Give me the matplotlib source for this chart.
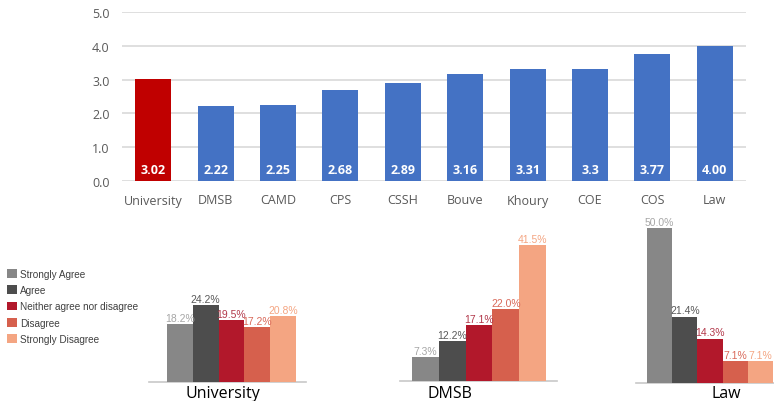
import matplotlib
matplotlib.use("Agg")
import matplotlib.pyplot as plt

# ---------------- data ----------------
colleges = ["University", "DMSB", "CAMD", "CPS", "CSSH", "Bouve", "Khoury", "COE", "COS", "Law"]
scores = [3.02, 2.22, 2.25, 2.68, 2.89, 3.16, 3.31, 3.30, 3.77, 4.00]
score_labels = ["3.02", "2.22", "2.25", "2.68", "2.89", "3.16", "3.31", "3.3", "3.77", "4.00"]
yticks = [0.0, 1.0, 2.0, 3.0, 4.0, 5.0]

responses = ["Strongly Agree", "Agree", "Neither agree nor disagree", "Disagree", "Strongly Disagree"]
univ_pct = [18.2, 24.2, 19.5, 17.2, 20.8]
dmsb_pct = [7.3, 12.2, 17.1, 22.0, 41.5]
law_pct = [50.0, 21.4, 14.3, 7.1, 7.1]

# ---------------- style ----------------
W, H = 774, 402
fig = plt.figure(figsize=(W / 100, H / 100), dpi=100)
plt.rcParams['font.family'] = ['Open Sans', 'DejaVu Sans']

def box(x0, x1, ytop, ybot):
    return [x0 / W, 1 - ybot / H, (x1 - x0) / W, (ybot - ytop) / H]

# top chart
ax = fig.add_axes(box(122, 746, 13, 182))
bar_colors = ["#c00000"] + ["#4472c4"] * (len(colleges) - 1)
xs = list(range(len(colleges)))
ax.bar(xs, scores, width=0.58, color=bar_colors, zorder=3)
for x, lab in zip(xs, score_labels):
    ax.text(x, 0.33, lab, ha="center", va="center", color="white",
            fontsize=9, fontweight="bold", zorder=4)
ax.set_xlim(-0.5, len(colleges) - 0.5)
ax.set_ylim(0, 5)
ax.set_yticks(yticks)
ax.set_yticklabels([f"{v:.1f}" for v in yticks])
ax.set_xticks(xs)
ax.set_xticklabels(colleges)
ax.grid(axis="y", color="#d9d9d9", linewidth=1.2, zorder=0)
for s in ax.spines.values():
    s.set_visible(False)
ax.tick_params(length=0, labelsize=9, colors="#595959")
ax.tick_params(axis="x", pad=9)
ax.tick_params(axis="y", pad=9)

# bottom charts
resp_colors = ["#878787", "#4d4d4d", "#b2182b", "#d6604d", "#f4a582"]
label_colors = ["#a6a6a6", "#595959", "#b2384a", "#d9695a", "#f4a582"]

def small(ax_box, vals, scale, lim, title, title_x):
    a = fig.add_axes(box(*ax_box))
    bars = a.bar(range(len(vals)), vals, width=1.0, color=resp_colors, zorder=3)
    for i, v in enumerate(vals):
        a.text(i, v + 0.4, f"{v:.1f}%", ha="center", va="bottom",
               fontsize=7.5, color=label_colors[i], family=["Liberation Sans", "DejaVu Sans"])
    a.set_xlim(*lim)
    height_px = ax_box[3] - ax_box[2]
    a.set_ylim(0, height_px / scale)
    for k, s in a.spines.items():
        s.set_visible(k == "bottom")
    a.spines["bottom"].set_color("#c8c8c8")
    a.spines["bottom"].set_linewidth(1.2)
    a.set_xticks([])
    a.set_yticks([])
    a.patch.set_alpha(0)
    fig.text(title_x / W, 1 - 394 / H, title, ha="center", va="center",
             fontsize=11.5, color="black")
    return bars

# University: line 149-306, bars 167-296 (25.8 px each)
bars_u = small((149, 306, 220, 383), univ_pct, 3.18, (-0.5 - 18 / 25.8, 4.5 + 10 / 25.8), "University", 223)
# DMSB: line 400-557, bars 412-546 (26.8 px each)
small((400, 557, 220, 382), dmsb_pct, 3.28, (-0.5 - 12 / 26.8, 4.5 + 11 / 26.8), "DMSB", 450)
# Law: line 636-774, bars 647-773 (25.2 px each)
small((636, 774, 220, 384), law_pct, 3.1, (-0.5 - 11 / 25.2, 4.5 + 1 / 25.2), "Law", 726)

leg = fig.legend(bars_u, responses, loc="upper left", bbox_to_anchor=(7 / W, 1 - 270 / H),
                 frameon=False, handlelength=1.0, handleheight=1.0,
                 handletextpad=0.3, labelspacing=0.62, borderpad=0, borderaxespad=0,
                 prop={"family": ["Liberation Sans", "DejaVu Sans"], "size": 7.2})
for t in leg.get_texts():
    t.set_color("#404040")

fig.savefig("out.png", dpi=100)
